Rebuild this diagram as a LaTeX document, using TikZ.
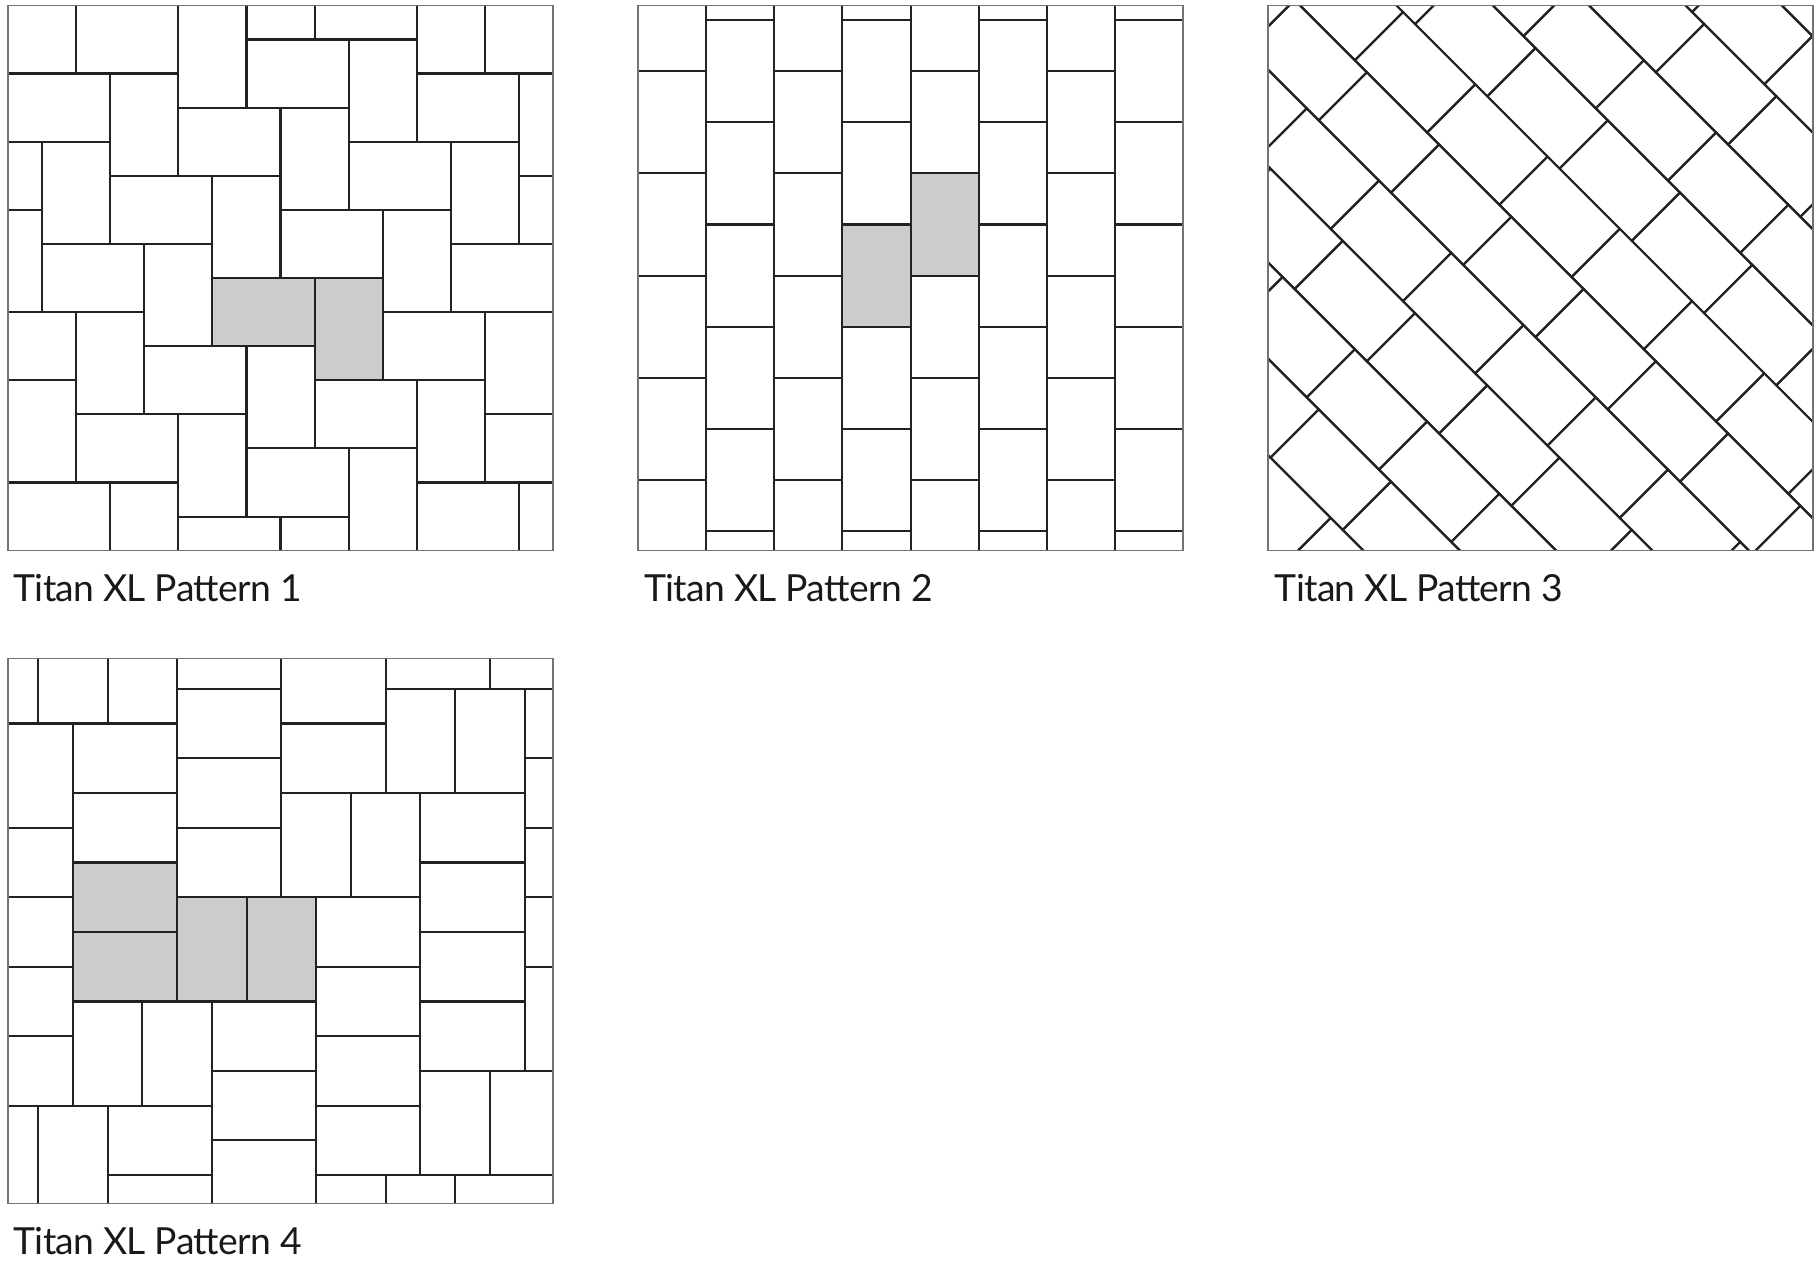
\documentclass[tikz,border=0pt]{standalone}
\usepackage{fontspec}
\setmainfont{Lato}[LetterSpace=-1.7]
\definecolor{tilegray}{HTML}{CCCCCC}
\definecolor{ink}{HTML}{222222}
\tikzset{
  tile/.style={draw=ink, line width=0.6pt, fill=white},
  frame/.style={draw=black!55, line width=0.5pt},
  title/.style={anchor=base west, inner sep=0pt, text=black!90, font=\fontsize{10.6}{13}\selectfont},
}

\begin{document}
\begin{tikzpicture}[x=0.01cm, y=-0.01cm]
  \useasboundingbox (0,0) rectangle (1818,1264);

  % pattern 1
  \begin{scope}
    \clip (7.9,5.4) rectangle (552.9,550.4);
    \begin{scope}[shift={(7.9,5.4)}, x=0.3406cm, y=-0.3406cm]
      \foreach \m in {-5,...,6}
        \foreach \n in {-4,...,3} {
          \draw[tile] ({6+2*\m+3*\n},{8-2*\m+3*\n}) rectangle ++(3,2);
          \draw[tile] ({9+2*\m+3*\n},{8-2*\m+3*\n}) rectangle ++(2,3);
        }
      \draw[tile, fill=tilegray] (6,8) rectangle ++(3,2);
      \draw[tile, fill=tilegray] (9,8) rectangle ++(2,3);
    \end{scope}
  \end{scope}
  \draw[frame] (7.9,5.4) rectangle (552.9,550.4);
  \node[title] (t1) at (12.7,601) {Titan XL Pattern 1};

  % pattern 2
  \begin{scope}
    \clip (637.9,5.4) rectangle (1182.9,550.4);
    \begin{scope}[shift={(637.9,5.4)}, x=0.3406cm, y=-0.3406cm]
      \foreach \c/\o in {0/1.93,1/0.43,2/1.93,3/0.43,4/1.93,5/0.43,6/1.93,7/0.43}
        \foreach \k in {-1,...,5}
          \draw[tile] ({2*\c},{\o+3*\k}) rectangle ++(2,3);
      \draw[tile, fill=tilegray] (6,6.43) rectangle ++(2,3);
      \draw[tile, fill=tilegray] (8,4.93) rectangle ++(2,3);
    \end{scope}
  \end{scope}
  \draw[frame] (637.9,5.4) rectangle (1182.9,550.4);
  \node[title] (t2) at (643.5,601) {Titan XL Pattern 2};

  % pattern 3
  \begin{scope}
    \clip (1268,5.4) rectangle (1812.6,550.4);
    \begin{scope}[shift={(1268,5.4)}, x={(0.2407cm,-0.2407cm)}, y={(0.2407cm,0.2407cm)}]
      \foreach \j in {-6,...,6} {
        \pgfmathsetmacro\sh{0.44-0.5*mod(abs(\j),2)}
        \foreach \k in {-1,...,7}
          \draw[tile, fill=none] ({\sh+3*\k},{2*\j-1.335}) -- ++(3,0) -- ++(0,2) -- ++(-3,0) -- cycle;
      }
    \end{scope}
  \end{scope}
  \draw[frame] (1268,5.4) rectangle (1812.6,550.4);
  \node[title] (t3) at (1274,601) {Titan XL Pattern 3};

  % pattern 4
  \begin{scope}
    \clip (7.9,658.4) rectangle (552.9,1203.4);
    \begin{scope}[shift={(38.2,688.8)}, x=0.3472cm, y=-0.3472cm]
      \foreach \a/\b/\c/\d in {-1/-1/0/1, 0/-1/2/1, 2/-1/4/1, 4/-1/7/0, 7/-1/10/1, 10/-1/13/0, 13/-1/15/0,
          -1/1/1/4, 1/1/4/3, 4/0/7/2, 7/1/10/3, 10/0/12/3, 12/0/14/3, 14/0/15/2,
          1/3/4/5, 4/2/7/4, 14/2/15/4,
          -1/4/1/6, 4/4/7/6, 7/3/9/6, 9/3/11/6, 11/3/14/5, 14/4/15/6,
          11/5/14/7, -1/6/1/8, 8/6/11/8, 14/6/15/8,
          11/7/14/9, -1/8/1/10, 8/8/11/10, 14/8/15/11,
          1/9/3/12, 3/9/5/12, 5/9/8/11, 11/9/14/11,
          -1/10/1/12, 8/10/11/12, 5/11/8/13, 11/11/13/14, 13/11/15/14,
          -1/12/0/15, 0/12/2/15, 2/12/5/14, 8/12/11/14, 5/13/8/15,
          2/14/5/15, 8/14/10/15, 10/14/12/15, 12/14/15/15}
        \draw[tile] (\a,\b) rectangle (\c,\d);
      \foreach \a/\b/\c/\d in {1/5/4/7, 1/7/4/9, 4/6/6/9, 6/6/8/9}
        \draw[tile, fill=tilegray] (\a,\b) rectangle (\c,\d);
    \end{scope}
  \end{scope}
  \draw[frame] (7.9,658.4) rectangle (552.9,1203.4);
  \node[title] (t4) at (12.7,1254) {Titan XL Pattern 4};
\end{tikzpicture}
\end{document}
